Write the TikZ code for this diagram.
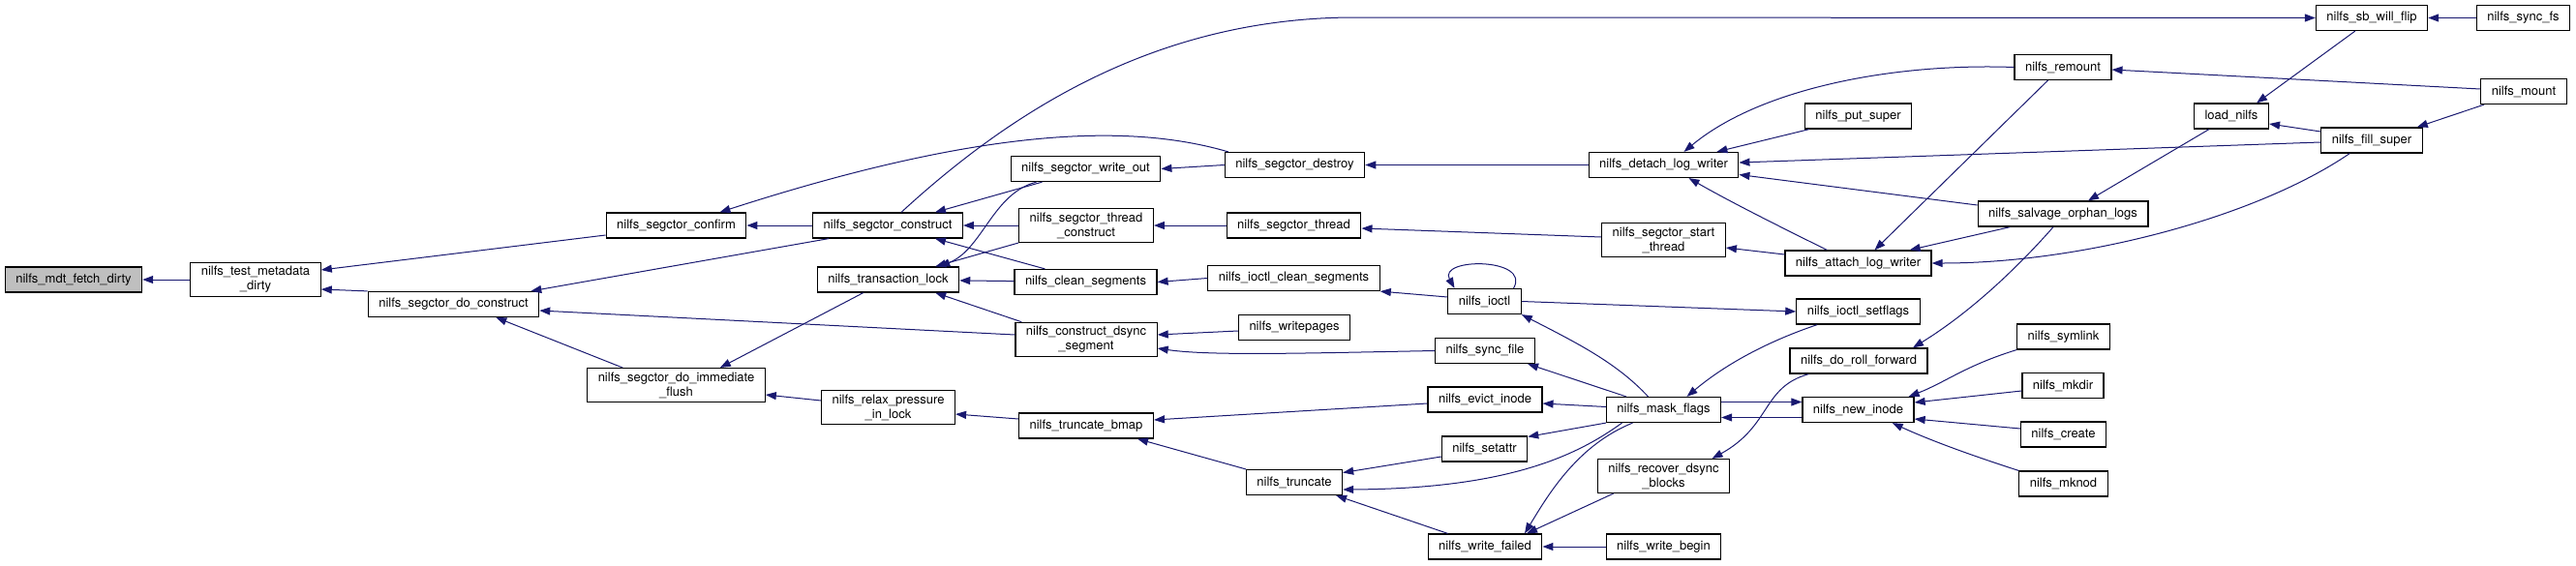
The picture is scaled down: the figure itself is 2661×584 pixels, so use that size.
\documentclass[tikz,border=0pt]{standalone}
\usepackage{fontspec}
\setmainfont{TeX Gyre Heros}
\usetikzlibrary{arrows.meta}
\definecolor{edgeblue}{RGB}{25,25,112}
\definecolor{rootgrey}{RGB}{191,191,191}
\begin{document}
\begin{tikzpicture}[
		x=1pt, y=-1pt,
		fn/.style={draw=black, fill=white, line width=1.2pt, align=center,
			font=\fontsize{13}{15}\selectfont, inner xsep=11pt, inner ysep=4pt, minimum height=26pt},
		root/.style={fn, fill=rootgrey},
		call/.style={draw=edgeblue, line width=1pt, -{Triangle[length=11pt,width=8pt]}}
	]
	\useasboundingbox (0,0) rectangle (2661,584);
	% functions, column by column
	\node[root] (mdt) at (76,289) {nilfs\_mdt\_fetch\_dirty};
	\node[fn] (testmeta) at (264,289) {nilfs\_test\_metadata\\\_dirty};
	\node[fn] (doconstruct) at (468.5,314.5) {nilfs\_segctor\_do\_construct};
	\node[fn] (confirm) at (698.5,233) {nilfs\_segctor\_confirm};
	\node[fn] (immflush) at (698.5,398) {nilfs\_segctor\_do\_immediate\\\_flush};
	\node[fn] (construct) at (917,233) {nilfs\_segctor\_construct};
	\node[fn] (translock) at (917.5,289) {nilfs\_transaction\_lock};
	\node[fn] (relax) at (917.5,421) {nilfs\_relax\_pressure\\\_in\_lock};
	\node[fn] (writeout) at (1121.5,174.5) {nilfs\_segctor\_write\_out};
	\node[fn] (threadcons) at (1122,233) {nilfs\_segctor\_thread\\\_construct};
	\node[fn] (cleanseg) at (1121.5,291.5) {nilfs\_clean\_segments};
	\node[fn] (dsync) at (1122,351) {nilfs\_construct\_dsync\\\_segment};
	\node[fn] (truncbmap) at (1122,440) {nilfs\_truncate\_bmap};
	\node[fn] (destroy) at (1337.5,170.5) {nilfs\_segctor\_destroy};
	\node[fn] (sgthread) at (1336.5,233) {nilfs\_segctor\_thread};
	\node[fn] (ioctlclean) at (1336.5,287.5) {nilfs\_ioctl\_clean\_segments};
	\node[fn] (writepages) at (1337,338.5) {nilfs\_writepages};
	\node[fn] (truncate) at (1337,498.5) {nilfs\_truncate};
	\node[fn] (ioctl) at (1533.5,311.5) {nilfs\_ioctl};
	\node[fn] (syncfile) at (1534,362.5) {nilfs\_sync\_file};
	\node[fn] (evict) at (1534,413) {nilfs\_evict\_inode};
	\node[fn] (setattr) at (1533.5,464) {nilfs\_setattr};
	\node[fn] (writefailed) at (1534,565) {nilfs\_write\_failed};
	\node[fn] (detach) at (1718.5,170.5) {nilfs\_detach\_log\_writer};
	\node[fn] (startthread) at (1718.5,248) {nilfs\_segctor\_start\\\_thread};
	\node[fn] (mask) at (1718.5,423.5) {nilfs\_mask\_flags};
	\node[fn] (recover) at (1718.5,492) {nilfs\_recover\_dsync\\\_blocks};
	\node[fn] (writebegin) at (1718.5,565) {nilfs\_write\_begin};
	\node[fn] (putsuper) at (1919.5,120) {nilfs\_put\_super};
	\node[fn] (attach) at (1919.5,272) {nilfs\_attach\_log\_writer};
	\node[fn] (setflags) at (1919.5,322) {nilfs\_ioctl\_setflags};
	\node[fn] (rollfwd) at (1920,373) {nilfs\_do\_roll\_forward};
	\node[fn] (newinode) at (1919.5,423.5) {nilfs\_new\_inode};
	\node[fn] (remount) at (2131,69.5) {nilfs\_remount};
	\node[fn] (salvage) at (2131,221) {nilfs\_salvage\_orphan\_logs};
	\node[fn] (symlink) at (2131.5,348) {nilfs\_symlink};
	\node[fn] (mkdir) at (2131,398.5) {nilfs\_mkdir};
	\node[fn] (create) at (2131.5,449) {nilfs\_create};
	\node[fn] (mknod) at (2131.5,500) {nilfs\_mknod};
	\node[fn] (loadnilfs) at (2305,120) {load\_nilfs};
	\node[fn] (sbflip) at (2450,18.5) {nilfs\_sb\_will\_flip};
	\node[fn] (fillsuper) at (2450,145) {nilfs\_fill\_super};
	\node[fn] (syncfs) at (2606.5,18.5) {nilfs\_sync\_fs};
	\node[fn] (mount) at (2607,94.5) {nilfs\_mount};
	% calls
	\draw[call] (testmeta.west) -- (mdt.east);
	\draw[call] ([yshift=-10pt]confirm.west) -- ([yshift=10pt]testmeta.east);
	\draw[call] (doconstruct.north west) -- ([yshift=-10pt]testmeta.east);
	\draw[call] ([xshift=17pt]construct.south west) -- ([xshift=-9pt]doconstruct.north east);
	\draw[call] ([yshift=5pt]dsync.west) -- ([yshift=-6.5pt]doconstruct.east);
	\draw[call] ([xshift=37pt]immflush.north west) -- ([xshift=-45pt]doconstruct.south east);
	\draw[call] ([xshift=48pt]translock.south west) -- ([xshift=-47pt]immflush.north east);
	\draw[call] ([yshift=7pt]relax.west) -- ([yshift=-10pt]immflush.east);
	\draw[call] ([yshift=7pt]truncbmap.west) -- ([yshift=-7pt]relax.east);
	\draw[call] (truncate.north west) -- ([xshift=-17pt]truncbmap.south east);
	\draw[call] ([yshift=-4pt]evict.west) -- ([yshift=6pt]truncbmap.east);
	\draw[call] ([xshift=4pt]destroy.north west) .. controls (1170,128) and (1020,130) .. ([xshift=-28pt]confirm.north east);
	\draw[call] ([xshift=14pt]construct.north) .. controls (1050,110) and (1200,18) .. (1400,18) -- (sbflip.west);
	\draw[call] (construct.west) -- (confirm.east);
	\draw[call] ([xshift=33pt]writeout.south west) -- ([xshift=-29pt]construct.north east);
	\draw[call] ([xshift=27pt]writeout.south west) .. controls (1025,200) and (1015,258) .. ([xshift=-21pt]translock.north east);
	\draw[call] (threadcons.west) -- (construct.east);
	\draw[call] (threadcons.south west) -- ([xshift=-25pt]translock.north east);
	\draw[call] ([xshift=32pt]cleanseg.north west) -- ([xshift=-29pt]construct.south east);
	\draw[call] (cleanseg) -- (translock);
	\draw[call] (destroy.west) -- (writeout.east);
	\draw[call] (sgthread.west) -- (threadcons.east);
	\draw[call] (ioctlclean.west) -- (cleanseg.east);
	\draw[call] ([xshift=7pt]dsync.north west) -- ([xshift=-25pt]translock.south east);
	\draw[call] ([yshift=-3.5pt]writepages.west) -- ([yshift=5pt]dsync.east);
	\draw[call] (syncfile.west) .. controls (1350,365) and (1250,368) .. ([yshift=-9pt]dsync.east);
	\draw[call] (detach.west) -- (destroy.east);
	\draw[call] ([yshift=3pt]startthread.west) -- ([yshift=-3pt]sgthread.east);
	\draw[call] ([yshift=9pt]attach.west) -- ([yshift=-8pt]startthread.east);
	\draw[call] ([xshift=44pt]attach.north west) .. controls (1840,235) and (1790,210) .. ([xshift=26pt]detach.south);
	\draw[call] (remount.west) .. controls (1960,65) and (1820,90) .. ([xshift=21pt]detach.north);
	\draw[call] ([xshift=5pt]putsuper.south west) -- ([xshift=-23pt]detach.north east);
	\draw[call] ([yshift=-2pt]fillsuper.west) -- ([yshift=2.5pt]detach.east);
	\draw[call] ([yshift=9pt]salvage.west) -- ([yshift=-10pt]detach.east);
	\draw[call] ([xshift=35pt]remount.south west) -- ([xshift=17pt]attach.north);
	\draw[call] ([xshift=34pt]salvage.south west) -- ([xshift=-23pt]attach.north east);
	\draw[call] ([xshift=30pt]fillsuper.south west) .. controls (2330,225) and (2150,272) .. (attach.east);
	\draw[call] ([xshift=-10pt]salvage.south) .. controls (2090,270) and (2040,320) .. ([xshift=56pt]rollfwd.north);
	\draw[call] (syncfs.west) -- (sbflip.east);
	\draw[call] ([xshift=41pt]sbflip.south west) -- ([xshift=-13pt]loadnilfs.north east);
	\draw[call] ([yshift=2.5pt]mount.west) -- ([yshift=-2.5pt]remount.east);
	\draw[call] ([xshift=4pt]mount.south west) -- ([xshift=-6pt]fillsuper.north east);
	\draw[call] ([yshift=9pt]fillsuper.west) -- ([yshift=-8pt]loadnilfs.east);
	\draw[call] ([xshift=16pt]loadnilfs.south west) -- ([xshift=26pt]salvage.north);
	\draw[call] ([xshift=30pt]ioctl.north) .. controls (1582,266) and (1485,266) .. ([xshift=-31pt]ioctl.north);
	\draw[call] ([yshift=4.5pt]ioctl.west) -- (ioctlclean.south east);
	\draw[call] (ioctl.east) -- (setflags.west);
	\draw[call] ([xshift=-16pt]mask.north) .. controls (1670,375) and (1630,355) .. (ioctl.south east);
	\draw[call] ([xshift=21pt]mask.north west) -- ([xshift=-8pt]syncfile.south east);
	\draw[call] ([xshift=22pt]setflags.south west) .. controls (1840,348) and (1790,370) .. ([xshift=24pt]mask.north);
	\draw[call] ([yshift=3pt]mask.west) -- ([yshift=-4pt]evict.east);
	\draw[call] ([yshift=8pt]mask.east) -- ([yshift=8pt]newinode.west);
	\draw[call] ([yshift=-8pt]newinode.west) -- ([yshift=-8pt]mask.east);
	\draw[call] (mask.south west) -- ([yshift=-1pt]setattr.north east);
	\draw[call] ([yshift=-8pt]setattr.west) -- ([yshift=10pt]truncate.east);
	\draw[call] ([xshift=-43pt]mask.south) .. controls (1630,470) and (1560,505) .. ([yshift=-7.5pt]truncate.east);
	\draw[call] ([xshift=-32pt]mask.south) .. controls (1630,460) and (1600,510) .. ([xshift=41pt]writefailed.north);
	\draw[call] ([xshift=21pt]writefailed.north west) -- ([xshift=-7pt]truncate.south east);
	\draw[call] ([xshift=17pt]recover.south west) -- ([xshift=43pt]writefailed.north);
	\draw[call] (writebegin.west) -- (writefailed.east);
	\draw[call] ([xshift=20pt]rollfwd.south west) .. controls (1820,400) and (1830,440) .. ([xshift=50pt]recover.north);
	\draw[call] (symlink.south west) .. controls (2030,378) and (2010,395) .. ([xshift=-6pt]newinode.north east);
	\draw[call] ([yshift=-5.5pt]mkdir.west) -- ([yshift=7.5pt]newinode.east);
	\draw[call] ([yshift=6pt]create.west) -- ([yshift=-9.5pt]newinode.east);
	\draw[call] (mknod.north west) .. controls (2050,475) and (2000,458) .. ([xshift=-23pt]newinode.south east);
\end{tikzpicture}
\end{document}
